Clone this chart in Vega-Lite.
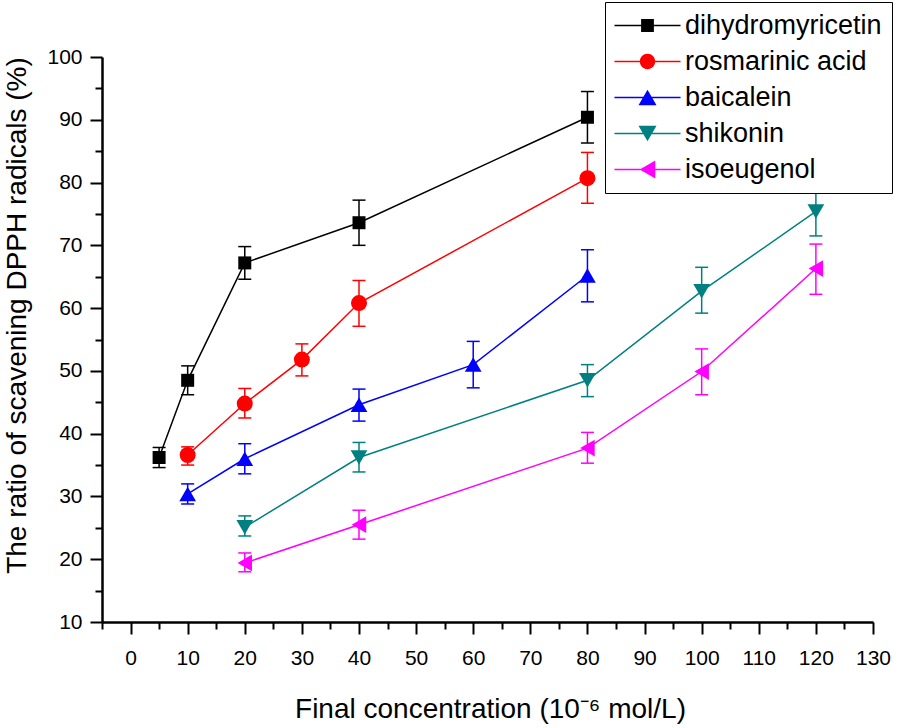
{
  "$schema": "https://vega.github.io/schema/vega-lite/v6.json",
  "width": 771,
  "height": 565,
  "autosize": {"type": "none"},
  "padding": {"left": 102, "top": 57, "right": 25, "bottom": 106},
  "config": {
    "view": {"stroke": null},
    "font": "Liberation Sans",
    "axis": {
      "grid": false,
      "domainColor": "#000000",
      "domainWidth": 2.5,
      "tickColor": "#000000",
      "tickWidth": 2,
      "labelColor": "#000000",
      "titleColor": "#000000",
      "labelFont": "Liberation Sans",
      "titleFont": "Liberation Sans",
      "labelFontSize": 21,
      "titleFontSize": 28,
      "titleFontWeight": "normal",
      "labelOverlap": false,
      "labelFlush": false
    }
  },
  "data": {
    "values": [
      {"s": "dihydromyricetin", "x": 5, "y": 36.2, "lo": 34.6, "hi": 37.8},
      {"s": "dihydromyricetin", "x": 10, "y": 48.5, "lo": 46.2, "hi": 50.8},
      {"s": "dihydromyricetin", "x": 20, "y": 67.2, "lo": 64.6, "hi": 69.8},
      {"s": "dihydromyricetin", "x": 40, "y": 73.6, "lo": 70.0, "hi": 77.2},
      {"s": "dihydromyricetin", "x": 80, "y": 90.4, "lo": 86.3, "hi": 94.5},
      {"s": "rosmarinic acid", "x": 10, "y": 36.6, "lo": 35.0, "hi": 37.9},
      {"s": "rosmarinic acid", "x": 20, "y": 44.8, "lo": 42.5, "hi": 47.2},
      {"s": "rosmarinic acid", "x": 30, "y": 51.8, "lo": 49.2, "hi": 54.3},
      {"s": "rosmarinic acid", "x": 40, "y": 60.8, "lo": 57.1, "hi": 64.4},
      {"s": "rosmarinic acid", "x": 80, "y": 80.7, "lo": 76.7, "hi": 84.8},
      {"s": "baicalein", "x": 10, "y": 30.4, "lo": 28.8, "hi": 32.0},
      {"s": "baicalein", "x": 20, "y": 36.0, "lo": 33.6, "hi": 38.4},
      {"s": "baicalein", "x": 40, "y": 44.6, "lo": 42.0, "hi": 47.1},
      {"s": "baicalein", "x": 60, "y": 51.0, "lo": 47.3, "hi": 54.7},
      {"s": "baicalein", "x": 80, "y": 65.2, "lo": 61.0, "hi": 69.3},
      {"s": "shikonin", "x": 20, "y": 25.1, "lo": 23.7, "hi": 26.9},
      {"s": "shikonin", "x": 40, "y": 36.2, "lo": 33.9, "hi": 38.6},
      {"s": "shikonin", "x": 80, "y": 48.5, "lo": 45.9, "hi": 51.0},
      {"s": "shikonin", "x": 100, "y": 62.7, "lo": 59.2, "hi": 66.5},
      {"s": "shikonin", "x": 120, "y": 75.4, "lo": 71.5, "hi": 79.4},
      {"s": "isoeugenol", "x": 20, "y": 19.4, "lo": 18.0, "hi": 21.0},
      {"s": "isoeugenol", "x": 40, "y": 25.5, "lo": 23.2, "hi": 27.8},
      {"s": "isoeugenol", "x": 80, "y": 37.7, "lo": 35.3, "hi": 40.2},
      {"s": "isoeugenol", "x": 100, "y": 49.9, "lo": 46.2, "hi": 53.5},
      {"s": "isoeugenol", "x": 120, "y": 66.3, "lo": 62.2, "hi": 70.2}
    ]
  },
  "encoding": {
    "x": {
      "field": "x",
      "type": "quantitative",
      "scale": {"domain": [-5, 130], "nice": false, "zero": false},
      "title": "Final concentration (10⁻⁶ mol/L)",
      "axis": {
        "values": [-5, 0, 5, 10, 15, 20, 25, 30, 35, 40, 45, 50, 55, 60, 65, 70, 75, 80, 85, 90, 95, 100, 105, 110, 115, 120, 125, 130],
        "labelExpr": "datum.value % 10 === 0 ? datum.label : ''",
        "tickSize": {"condition": {"test": "datum.value % 10 === 0", "value": 12}, "value": 7},
        "labelPadding": 13,
        "titleX": 388,
        "titleY": 95,
        "titleBaseline": "alphabetic",
        "titleAlign": "center"
      }
    },
    "y": {
      "field": "y",
      "type": "quantitative",
      "title": "The ratio of scavening DPPH radicals (%)",
      "scale": {"domain": [10, 100], "nice": false, "zero": false},
      "axis": {
        "values": [10, 15, 20, 25, 30, 35, 40, 45, 50, 55, 60, 65, 70, 75, 80, 85, 90, 95, 100],
        "labelExpr": "datum.value % 10 === 0 ? datum.label : ''",
        "tickSize": {"condition": {"test": "datum.value % 10 === 0", "value": 12}, "value": 7},
        "labelPadding": 8,
        "titleX": -77,
        "titleY": 258,
        "titleAngle": -90,
        "titleBaseline": "alphabetic",
        "titleAlign": "center"
      }
    },
    "color": {
      "field": "s",
      "type": "nominal",
      "scale": {
        "domain": ["dihydromyricetin", "rosmarinic acid", "baicalein", "shikonin", "isoeugenol"],
        "range": ["#000000", "#ff0000", "#0000ff", "#008080", "#ff00ff"]
      },
      "legend": {
        "orient": "none",
        "legendX": 503,
        "legendY": -55,
        "title": null,
        "padding": 10,
        "strokeColor": "#000000",
        "fillColor": "#ffffff",
        "labelFontSize": 27,
        "labelFont": "Liberation Sans",
        "labelColor": "#000000",
        "labelLimit": 0,
        "symbolSize": 324,
        "symbolStrokeWidth": 0,
        "symbolOpacity": 1,
        "symbolOffset": 19,
        "labelOffset": 24,
        "rowPadding": 8,
        "encode": {
          "symbols": {
            "update": {
              "shape": {"signal": "datum.value === 'dihydromyricetin' ? 'M-3.67,-0.085H3.67V0.085H-3.67Z M-0.71,-0.71H0.71V0.71H-0.71Z' : datum.value === 'rosmarinic acid' ? 'M-3.67,-0.085H3.67V0.085H-3.67Z M0.85,0A0.85,0.85 0 1 1 -0.85,0A0.85,0.85 0 1 1 0.85,0Z' : datum.value === 'baicalein' ? 'M-3.67,-0.085H3.67V0.085H-3.67Z M0,-0.866L1,0.866L-1,0.866Z' : datum.value === 'shikonin' ? 'M-3.67,-0.085H3.67V0.085H-3.67Z M-1,-0.866L1,-0.866L0,0.866Z' : 'M-3.67,-0.085H3.67V0.085H-3.67Z M-0.866,0L0.866,-1L0.866,1Z'"}
            }
          }
        }
      }
    }
  },
  "layer": [
    {
      "mark": {"type": "rule", "strokeWidth": 1.5},
      "encoding": {
        "y": {"field": "lo", "type": "quantitative", "title": "The ratio of scavening DPPH radicals (%)"},
        "y2": {"field": "hi"}
      }
    },
    {
      "mark": {"type": "tick", "orient": "horizontal", "size": 13, "thickness": 1.5, "opacity": 1},
      "encoding": {
        "y": {"field": "lo", "type": "quantitative", "title": "The ratio of scavening DPPH radicals (%)"}
      }
    },
    {
      "mark": {"type": "tick", "orient": "horizontal", "size": 13, "thickness": 1.5, "opacity": 1},
      "encoding": {
        "y": {"field": "hi", "type": "quantitative", "title": "The ratio of scavening DPPH radicals (%)"}
      }
    },
    {
      "mark": {"type": "line", "strokeWidth": 1.5},
      "encoding": {}
    },
    {
      "transform": [{"filter": "datum.s === 'dihydromyricetin'"}],
      "mark": {"type": "point", "shape": "square", "size": 169, "filled": true, "opacity": 1, "strokeWidth": 0},
      "encoding": {}
    },
    {
      "transform": [{"filter": "datum.s === 'rosmarinic acid'"}],
      "mark": {"type": "point", "shape": "circle", "size": 256, "filled": true, "opacity": 1, "strokeWidth": 0},
      "encoding": {}
    },
    {
      "transform": [{"filter": "datum.s === 'baicalein'"}],
      "mark": {"type": "point", "shape": "triangle-up", "size": 280, "filled": true, "opacity": 1, "strokeWidth": 0},
      "encoding": {}
    },
    {
      "transform": [{"filter": "datum.s === 'shikonin'"}],
      "mark": {"type": "point", "shape": "triangle-down", "size": 280, "filled": true, "opacity": 1, "strokeWidth": 0},
      "encoding": {}
    },
    {
      "transform": [{"filter": "datum.s === 'isoeugenol'"}],
      "mark": {"type": "point", "shape": "triangle-left", "size": 280, "filled": true, "opacity": 1, "strokeWidth": 0},
      "encoding": {}
    }
  ]
}
